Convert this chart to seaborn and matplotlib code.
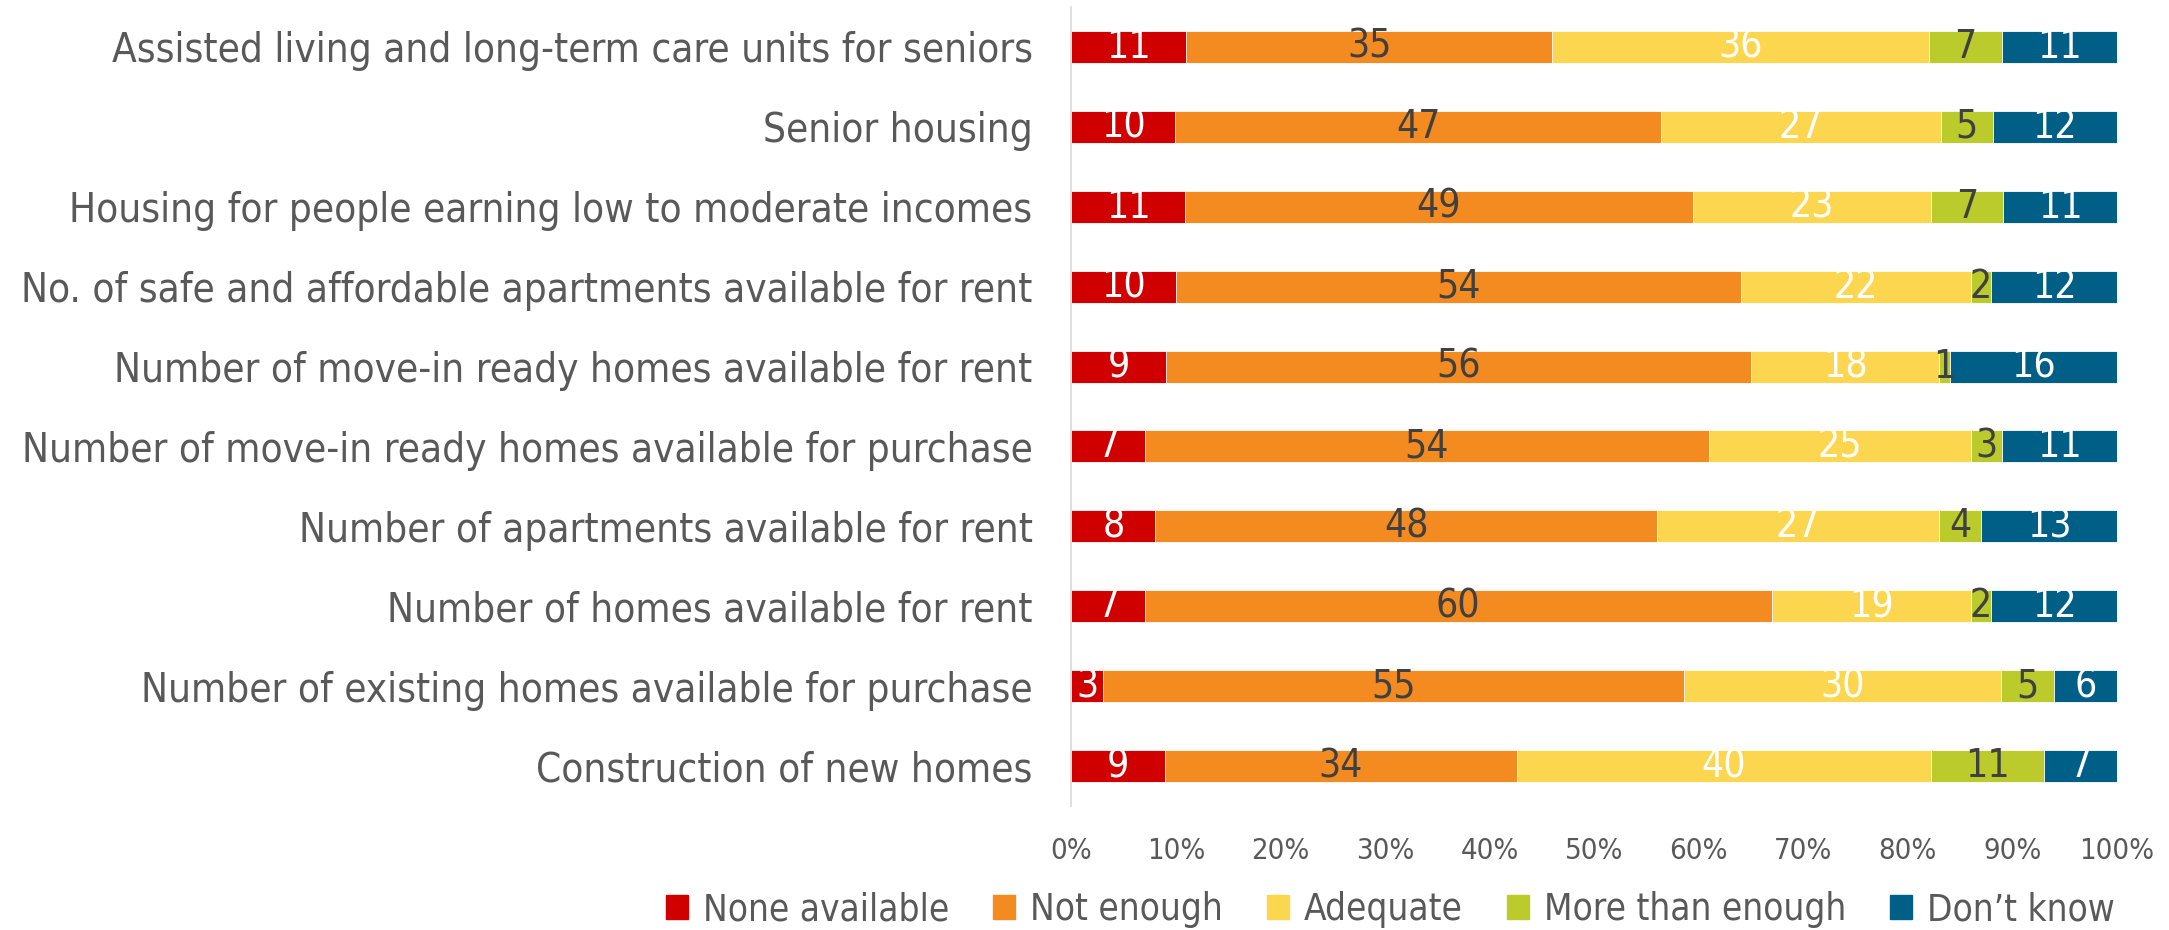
import numpy as np
import pandas as pd
import matplotlib.pyplot as plt
import seaborn as sns

categories = [
    "Assisted living and long-term care units for seniors",
    "Senior housing",
    "Housing for people earning low to moderate incomes",
    "No. of safe and affordable apartments available for rent",
    "Number of move-in ready homes available for rent",
    "Number of move-in ready homes available for purchase",
    "Number of apartments available for rent",
    "Number of homes available for rent",
    "Number of existing homes available for purchase",
    "Construction of new homes",
]
series = ["None available", "Not enough", "Adequate", "More than enough", "Don\u2019t know"]
none_available = [11, 10, 11, 10, 9, 7, 8, 7, 3, 9]
not_enough = [35, 47, 49, 54, 56, 54, 48, 60, 55, 34]
adequate = [36, 27, 23, 22, 18, 25, 27, 19, 30, 40]
more_than_enough = [7, 5, 7, 2, 1, 3, 4, 2, 5, 11]
dont_know = [11, 12, 11, 12, 16, 11, 13, 12, 6, 7]

colors = ["#D00000", "#F38B20", "#FDD64F", "#BBCB2B", "#005F86"]
label_colors = ["white", "#404040", "white", "#404040", "white"]

sns.set_style("white")
plt.rcParams["font.family"] = ["DejaVu Sans"]
plt.rcParams["font.stretch"] = "condensed"

values = np.array([none_available, not_enough, adequate, more_than_enough, dont_know], dtype=float)
shares = values / values.sum(axis=0) * 100
cum = shares.cumsum(axis=0)

fig = plt.figure(figsize=(21.69, 9.30), dpi=100)
ax = fig.add_axes([0.494, 0.1333, 0.482, 0.8592])

# draw from the last series back so the earlier ones sit on top
for i in range(len(series) - 1, -1, -1):
    df = pd.DataFrame({"category": categories, "x": cum[i]})
    sns.barplot(data=df, x="x", y="category", order=categories, orient="h",
                color=colors[i], width=0.4, edgecolor="white", linewidth=0.6,
                saturation=1, ax=ax)

# value labels
for i in range(len(series)):
    for j in range(len(categories)):
        mid = cum[i, j] - shares[i, j] / 2
        ax.text(mid, j, f"{int(values[i, j])}", ha="center", va="center",
                fontsize=28, color=label_colors[i])

ax.set_xlim(0, 100)
ax.set_ylim(len(categories) - 0.5, -0.5)
ax.set_xticks(np.arange(0, 101, 10))
ax.set_xticklabels([f"{t}%" for t in range(0, 101, 10)], fontsize=21, color="#595959")
ax.tick_params(axis="y", labelsize=29, labelcolor="#595959", length=0, pad=28)
ax.tick_params(axis="x", length=0, pad=22)
ax.set_xlabel("")
ax.set_ylabel("")
for s in ["top", "right", "bottom"]:
    ax.spines[s].set_visible(False)
ax.spines["left"].set_color("#D9D9D9")
ax.spines["left"].set_linewidth(1.2)

handles = [plt.Rectangle((0, 0), 1, 1, color=c) for c in colors]
fig.legend(handles, series, loc="center", bbox_to_anchor=(0.641, 0.022), ncol=5,
           frameon=False, fontsize=26.5, handlelength=0.6, handleheight=0.6,
           handletextpad=0.4, columnspacing=1.2, labelcolor="#595959")

fig.savefig("out.png", dpi=100)
